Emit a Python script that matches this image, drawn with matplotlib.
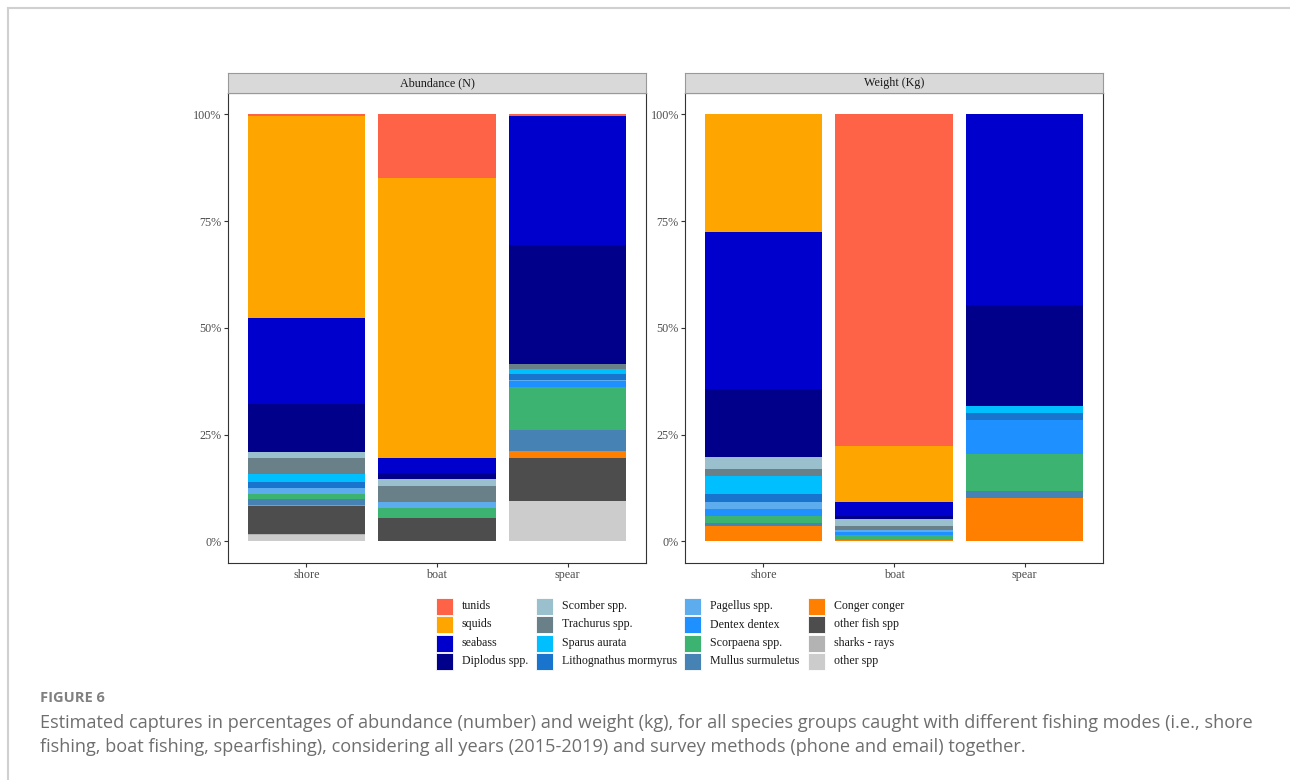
import numpy as np
import matplotlib
matplotlib.use("Agg")
import matplotlib.pyplot as plt
from matplotlib.patches import Rectangle
from matplotlib.lines import Line2D

# species groups, top of stack first (legend order)
species = ["tunids", "squids", "seabass", "Diplodus spp.", "Scomber spp.",
           "Trachurus spp.", "Sparus aurata", "Lithognathus mormyrus",
           "Pagellus spp.", "Dentex dentex", "Scorpaena spp.", "Mullus surmuletus",
           "Conger conger", "other fish spp", "sharks - rays", "other spp"]
colors = ["#FF6347", "#FFA500", "#0000CD", "#00008B", "#9BC0CD",
          "#6A8088", "#00BFFF", "#1874CD",
          "#5CACEE", "#1E90FF", "#3CB371", "#4682B4",
          "#FF7F00", "#4D4D4D", "#B3B3B3", "#CCCCCC"]
modes = ["shore", "boat", "spear"]

# percentages per mode (shore, boat, spear)
abundance = [
    [0.5, 15.0, 0.5],
    [47.3, 65.5, 0.0],
    [20.0, 3.4, 30.0],
    [11.3, 1.4, 27.9],
    [1.3, 1.8, 0.0],
    [3.8, 3.6, 1.2],
    [1.9, 0.0, 1.1],
    [1.3, 0.0, 1.4],
    [1.4, 1.5, 0.2],
    [0.1, 0.0, 1.5],
    [1.2, 2.3, 10.0],
    [1.3, 0.0, 4.9],
    [0.3, 0.0, 1.6],
    [6.6, 5.4, 10.1],
    [0.2, 0.0, 0.0],
    [1.5, 0.1, 9.5],
]
weight = [
    [0.0, 77.6, 0.0],
    [27.5, 13.1, 0.0],
    [36.8, 3.3, 44.6],
    [15.9, 0.8, 23.8],
    [2.8, 1.6, 0.0],
    [1.8, 0.9, 0.0],
    [4.1, 0.0, 1.7],
    [1.9, 0.0, 1.6],
    [1.6, 0.5, 0.0],
    [1.6, 0.7, 8.0],
    [1.7, 1.2, 8.5],
    [0.6, 0.0, 1.7],
    [3.7, 0.3, 10.2],
    [0.0, 0.0, 0.0],
    [0.0, 0.0, 0.0],
    [0.0, 0.0, 0.0],
]
panels = ["Abundance (N)", "Weight (Kg)"]
caption_head = "FIGURE 6"
caption = ("Estimated captures in percentages of abundance (number) and weight (kg), for all species "
           "groups caught with different fishing modes (i.e., shore\nfishing, boat fishing, spearfishing), "
           "considering all years (2015-2019) and survey methods (phone and email) together.")

W, H = 1290, 780
fig = plt.figure(figsize=(W / 100, H / 100), dpi=100)
plt.rcParams['font.family'] = ['Liberation Serif', 'DejaVu Serif']
fs = 8.7


def px_axes(x0, y0, x1, y1):
    return fig.add_axes([x0 / W, 1 - y1 / H, (x1 - x0) / W, (y1 - y0) / H])


for k, (title, data) in enumerate(zip(panels, [abundance, weight])):
    x0 = [228, 685][k]
    ax = px_axes(x0, 93, x0 + 418, 562.7)
    vals = np.array(data, dtype=float)
    vals = vals / vals.sum(axis=0) * 100
    x = np.arange(1, len(modes) + 1)
    bottom = np.zeros(len(modes))
    for i in range(len(species) - 1, -1, -1):
        ax.bar(x, vals[i] / 100, width=0.9, bottom=bottom, color=colors[i], linewidth=0)
        bottom += vals[i] / 100
    ax.set_xlim(0.4, 3.6)
    ax.set_ylim(-0.05, 1.05)
    ax.set_xticks(x)
    ax.set_xticklabels(modes)
    ax.set_yticks([0, 0.25, 0.5, 0.75, 1.0])
    ax.set_yticklabels(["0%", "25%", "50%", "75%", "100%"])
    ax.tick_params(length=3, width=0.8, color="#333333", labelcolor="#4D4D4D",
                   labelsize=fs, pad=1.5)
    for s in ax.spines.values():
        s.set_color("#333333")
        s.set_linewidth(0.8)

    st = px_axes(x0, 73, x0 + 418, 93)
    st.set_facecolor("#D9D9D9")
    st.set_xticks([])
    st.set_yticks([])
    for s in st.spines.values():
        s.set_color("#999999")
        s.set_linewidth(0.8)
    st.text(0.5, 0.5, title, ha="center", va="center", fontsize=fs, color="#1A1A1A")

# legend, drawn by hand in pixel space
lg = px_axes(0, 0, W, H)
lg.set_xlim(0, W)
lg.set_ylim(H, 0)
lg.axis("off")
lg.patch.set_alpha(0)
col_x = [436, 536, 684, 808]
row_y = [606, 624.5, 643, 661]
for i, (name, c) in enumerate(zip(species, colors)):
    cx = col_x[i // 4]
    cy = row_y[i % 4]
    lg.add_patch(Rectangle((cx, cy - 8.5), 17, 17, facecolor=c, edgecolor="white", linewidth=0.6))
    lg.text(cx + 26, cy, name, ha="left", va="center", fontsize=8.6, color="#1A1A1A")

# caption and outer frame
fig.text(40 / W, 1 - 698 / H, caption_head, ha="left", va="center", fontsize=10.5,
         fontweight="bold", color="#808080", family=["Open Sans", "DejaVu Sans"])
fig.text(40 / W, 1 - 714 / H, caption, ha="left", va="top", fontsize=13.1,
         color="#6E6E6E", family=["Open Sans", "DejaVu Sans"], linespacing=1.45)
fig.add_artist(Line2D([7.5 / W, 7.5 / W], [0, 1 - 8 / H], color="#D0D0D0", linewidth=1.5))
fig.add_artist(Line2D([7.5 / W, 1], [1 - 8 / H, 1 - 8 / H], color="#D0D0D0", linewidth=1.5))

fig.savefig("out.png", dpi=100)
